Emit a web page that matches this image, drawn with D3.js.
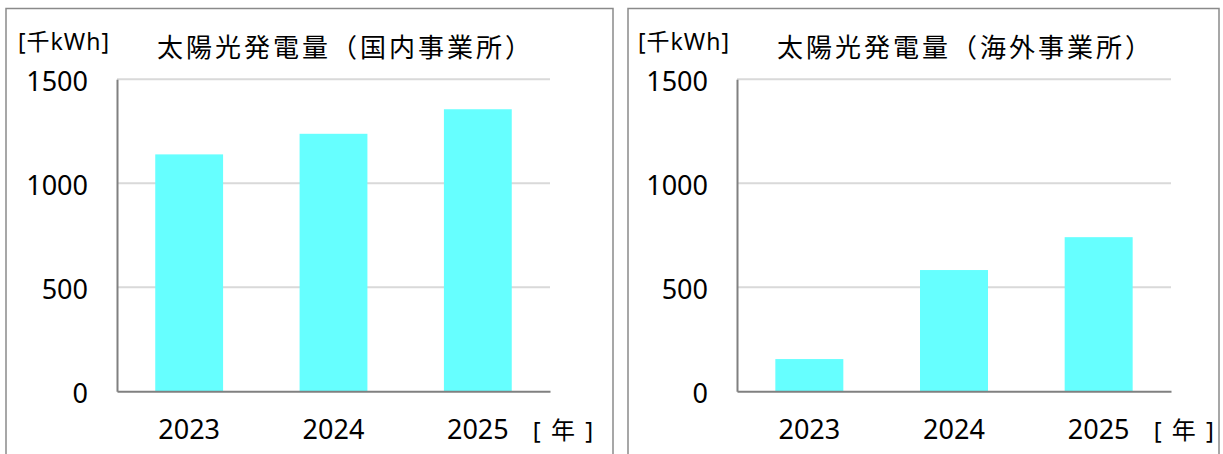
<!DOCTYPE html>
<html>
<head>
<meta charset="utf-8">
<script src="https://cdn.jsdelivr.net/npm/d3@7/dist/d3.min.js"></script>
<style>
  html, body { margin: 0; padding: 0; background: #fff; }
  svg { display: block; }
  text { font-family: "Noto Sans", "Noto Sans CJK JP", sans-serif; fill: #000; }
</style>
</head>
<body>
<svg id="chart" width="1223" height="454"></svg>
<script>
// ---- data ----
const categories = ["2023", "2024", "2025"];
const domesticValues = [1139, 1238, 1356];
const overseasValues = [155, 583, 741];
const yTickValues = [0, 500, 1000, 1500];
const titleDomestic = "太陽光発電量（国内事業所）";
const titleOverseas = "太陽光発電量（海外事業所）";
const unitLabel = "[千kWh]";
const xUnitLabel = "[\u00a0年\u00a0]";

const panels = [
  { title: titleDomestic, values: domesticValues, frameX: 6, frameW: 607, axisX: 117, plotW: 433 },
  { title: titleOverseas, values: overseasValues, frameX: 628, frameW: 591, axisX: 737, plotW: 434 }
];

const svg = d3.select("#chart");
const yTop = 79.3, yBottom = 391.3;
const y = d3.scaleLinear().domain([0, 1500]).range([yBottom, yTop]);

panels.forEach(p => {
  const g = svg.append("g");
  // frame
  g.append("rect")
    .attr("x", p.frameX).attr("y", 8.5)
    .attr("width", p.frameW).attr("height", 470)
    .attr("fill", "none").attr("stroke", "#8a8a8a").attr("stroke-width", 1.5);

  const x = d3.scaleBand().domain(categories)
    .range([p.axisX, p.axisX + p.plotW])
    .paddingInner(0.53).paddingOuter(0.265);

  // gridlines
  g.selectAll("line.grid").data(yTickValues.filter(v => v > 0)).enter().append("line")
    .attr("x1", p.axisX).attr("x2", p.axisX + p.plotW)
    .attr("y1", d => y(d)).attr("y2", d => y(d))
    .attr("stroke", "#d9d9d9").attr("stroke-width", 2);

  // bars
  g.selectAll("rect.bar").data(p.values).enter().append("rect")
    .attr("x", (d, i) => x(categories[i]))
    .attr("width", x.bandwidth())
    .attr("y", d => y(d))
    .attr("height", d => y(0) - y(d))
    .attr("fill", "#66ffff");

  // y axis
  const yAxis = d3.axisLeft(y).tickValues(yTickValues).tickFormat(d3.format("d")).tickSize(0).tickPadding(29);
  const ya = g.append("g").attr("transform", `translate(${p.axisX},0)`).call(yAxis);
  ya.select(".domain").attr("stroke", "#808080").attr("stroke-width", 2);
  ya.selectAll("text").attr("font-size", 27).attr("dy", "0.4em")
    .style("font-family", '"Noto Sans", "Noto Sans CJK JP", sans-serif').attr("fill", "#000");

  // x axis
  const xAxis = d3.axisBottom(x).tickSize(0).tickPadding(0);
  const xa = g.append("g").attr("transform", `translate(0,${yBottom})`).call(xAxis);
  xa.select(".domain").attr("stroke", "#808080").attr("stroke-width", 2);
  xa.selectAll("text").attr("font-size", 27).attr("dy", null).attr("y", 48)
    .style("font-family", '"Noto Sans", "Noto Sans CJK JP", sans-serif').attr("fill", "#000");

  // x unit
  g.append("text")
    .attr("x", x(categories[2]) + x.bandwidth() + 21)
    .attr("y", 439)
    .attr("font-size", 24).attr("letter-spacing", 2)
    .text(xUnitLabel);

  // unit label
  g.append("text")
    .attr("x", p.axisX - 99).attr("y", 50)
    .attr("font-size", 23).attr("letter-spacing", 1)
    .text(unitLabel);

  // title
  g.append("text")
    .attr("x", p.axisX + 40).attr("y", 57)
    .attr("font-size", 26).attr("letter-spacing", 3)
    .style("font-family", '"Noto Sans CJK JP", sans-serif')
    .text(p.title);
});
</script>
</body>
</html>
